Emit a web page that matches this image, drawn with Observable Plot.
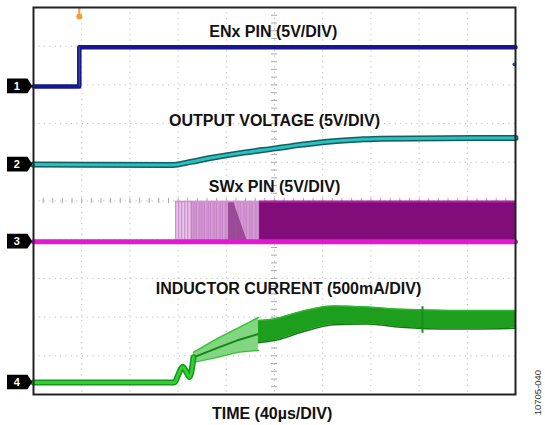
<!DOCTYPE html>
<html>
<head>
<meta charset="utf-8">
<script src="https://cdn.jsdelivr.net/npm/d3@7"></script>
<script src="https://cdn.jsdelivr.net/npm/@observablehq/plot@0.6"></script>
<style>
  html, body { margin: 0; padding: 0; background: #fff; }
  #chart svg { display: block; }
</style>
</head>
<body>
<div id="chart"></div>
<script>
// ---- time axis: microseconds (40 µs/DIV, 10 divisions); vertical: divisions 0..10
const gridX = [0, 40, 80, 120, 160, 200, 240, 280, 320, 360, 400];
const gridY = [0, 1, 2, 3, 4, 5, 6, 7, 8, 9, 10];

// Channel markers
const chLabels = ["1", "2", "3", "4"];
const chLevels = [7.96, 5.94, 3.95, 0.31];

// Trace 1: ENx pin
const enT = [0, 38, 38, 400];
const enV = [7.96, 7.96, 8.97, 8.97];
const enStrayT = [399];
const enStrayV = [8.53];
const trigT = [38];
const trigV = [9.77];

// Trace 2: output voltage
const ovT = [0, 115.4, 130.3, 146.9, 174.3, 200.8, 221.6, 246.5, 271.4, 288, 400];
const ovV = [5.94, 5.93, 6.01, 6.11, 6.25, 6.36, 6.45, 6.54, 6.59, 6.61, 6.63];

// Trace 3: SWx pin
const swT = [0, 400];
const swLowV = [3.95, 3.95];
const swHigh = 4.99;
const swLow = 3.95;
const swSparseStart = 117.8;
const swDarkStart = 130.3;
const swDenseStart = 187.6;
const swPulseT = [118, 120.5, 123, 125.5, 128, 131, 132.5, 134, 135.5, 137.5, 139, 140.5, 142, 144, 145.5, 147, 149,
                  150.5, 152, 154, 155.5, 157, 159, 160.5, 162, 164, 165.5, 167, 169, 170.5, 172, 174, 175.5, 177,
                  179, 180.5, 182, 184, 185.5, 187];
const swTriV = [3.95, 4.99];
const swTriX1 = [161.8, 161.8];
const swTriX2 = [177.6, 166];

// Trace 4: inductor current
const ilT = [0, 117, 120, 123.7, 126.5, 129.5, 132.8];
const ilV = [0.31, 0.31, 0.5, 0.72, 0.6, 0.45, 0.96];
const rampT = [132.8, 152.7, 169.3, 186.7];
const rampHi = [1.09, 1.45, 1.71, 1.99];
const rampLo = [0.83, 0.96, 1.09, 1.14];
const denseT = [186.7, 200.8, 221.6, 249, 277.2, 304.6, 346, 400];
const denseHi = [1.91, 1.96, 2.14, 2.29, 2.26, 2.20, 2.17, 2.17];
const denseLo = [1.34, 1.40, 1.60, 1.80, 1.82, 1.74, 1.69, 1.71];
const glitchT = [322.8];
const glitchLo = [1.58];
const glitchHi = [2.27];

// Labels
const traceLabels = ["ENx PIN (5V/DIV)", "OUTPUT VOLTAGE (5V/DIV)", "SWx PIN (5V/DIV)", "INDUCTOR CURRENT (500mA/DIV)"];
const traceLabelX = [199, 200, 200, 211.6];
const traceLabelY = [9.36, 7.08, 5.37, 2.74];
const xTitle = "TIME (40µs/DIV)";
const figCode = "10705-040";

// ---------- build tables ----------
const zip = (a, b) => a.map((v, i) => ({x: v, y: b[i]}));
const enData = zip(enT, enV);
const ovData = zip(ovT, ovV);
const ilData = zip(ilT, ilV);
const rampData = rampT.map((t, i) => ({x: t, hi: rampHi[i], lo: rampLo[i], mid: (rampHi[i] + rampLo[i]) / 2}));
const denseData = denseT.map((t, i) => ({x: t, hi: denseHi[i], lo: denseLo[i]}));
const triData = swTriV.map((v, i) => ({y: v, x1: swTriX1[i], x2: swTriX2[i]}));

// channel tag shapes (pentagon tags pointing right, placed at each channel level)
const tagData = [];
chLabels.forEach((c, i) => {
  const l = chLevels[i];
  tagData.push({c, x: -21.6, y1: l - 0.19, y2: l + 0.19});
  tagData.push({c, x: -4.6, y1: l - 0.19, y2: l + 0.19});
  tagData.push({c, x: -0.6, y1: l, y2: l});
});
const chData = chLabels.map((c, i) => ({c, y: chLevels[i]}));

const minorX = d3.range(0, 400.01, 8);
const minorY = d3.range(0, 10.01, 0.2);

const fontFamily = "'Liberation Sans', Arial, Helvetica, sans-serif";

const chart = Plot.plot({
  width: 545,
  height: 425,
  marginLeft: 33,
  marginRight: 30,
  marginTop: 7,
  marginBottom: 31,
  style: {fontFamily, background: "#fff"},
  x: {domain: [0, 400], axis: null},
  y: {domain: [0, 10], axis: null},
  marks: [
    // graticule
    Plot.ruleX(gridX, {stroke: "#bdbdbd", strokeDasharray: "1.2,4.2", strokeWidth: 1}),
    Plot.ruleY(gridY, {stroke: "#bdbdbd", strokeDasharray: "1.2,4.2", strokeWidth: 1}),
    Plot.ruleX(minorX, {x: d => d, y1: 4.93, y2: 5.07, stroke: "#aaa", strokeWidth: 1}),
    Plot.ruleY(minorY, {y: d => d, x1: 197.5, x2: 202.5, stroke: "#aaa", strokeWidth: 1}),

    // trace 3: SWx pin
    Plot.rect([0], {x1: swSparseStart, x2: swDarkStart, y1: swLow, y2: swHigh, fill: "#e9c3e9"}),
    Plot.rect([0], {x1: swDarkStart, x2: swDenseStart, y1: swLow, y2: swHigh, fill: "#dcaadc"}),
    Plot.ruleX(swPulseT, {x: d => d, y1: swLow, y2: swHigh, stroke: "#b05aae", strokeWidth: 0.8, strokeOpacity: 0.75}),
    Plot.areaX(triData, {y: "y", x1: "x1", x2: "x2", fill: "#933d8e", fillOpacity: 0.85}),
    Plot.ruleY([swHigh], {x1: swSparseStart, x2: swDenseStart, stroke: "#d88cd8", strokeWidth: 1.5}),
    Plot.rect([0], {x1: swDenseStart, x2: 400, y1: swLow, y2: swHigh, fill: "#820c7a"}),
    Plot.ruleY([swHigh], {x1: swDenseStart, x2: 400, stroke: "#b3239f", strokeWidth: 2}),
    Plot.line(zip(swT, swLowV), {x: "x", y: "y", stroke: "#e01ad0", strokeWidth: 5}),

    // trace 4: inductor current
    Plot.areaY(rampData, {x: "x", y1: "lo", y2: "hi", fill: "#74d274", fillOpacity: 0.9}),
    Plot.line(rampData, {x: "x", y: "hi", stroke: "#3cc23c", strokeWidth: 1.5}),
    Plot.line(rampData, {x: "x", y: "lo", stroke: "#3cc23c", strokeWidth: 1.5}),
    Plot.line(rampData, {x: "x", y: "mid", stroke: "#158515", strokeWidth: 2}),
    Plot.areaY(denseData, {x: "x", y1: "lo", y2: "hi", fill: "#1d9e1d", curve: "monotone-x"}),
    Plot.line(denseData, {x: "x", y: "hi", stroke: "#2fb52f", strokeWidth: 1.5, curve: "monotone-x"}),
    Plot.line(denseData, {x: "x", y: "lo", stroke: "#137a13", strokeWidth: 1.5, curve: "monotone-x"}),
    Plot.ruleX(glitchT, {x: d => d, y1: glitchLo, y2: glitchHi, stroke: "#1a8f1a", strokeWidth: 2}),
    Plot.line(ilData, {x: "x", y: "y", stroke: "#16961a", strokeWidth: 6, curve: "monotone-x"}),
    Plot.line(ilData, {x: "x", y: "y", stroke: "#2fd02f", strokeWidth: 3, curve: "monotone-x"}),

    // trace 2: output voltage
    Plot.line(ovData, {x: "x", y: "y", stroke: "#125e5e", strokeWidth: 6, curve: "monotone-x"}),
    Plot.line(ovData, {x: "x", y: "y", stroke: "#2bc0bf", strokeWidth: 3, curve: "monotone-x"}),

    // trace 1: ENx pin
    Plot.line(enData, {x: "x", y: "y", stroke: "#16168f", strokeWidth: 4.5}),
    Plot.ruleX(enT.slice(1, 2), {x: d => d, y1: enV[1], y2: enV[2], stroke: "#555", strokeWidth: 1}),
    Plot.dot(zip(enStrayT, enStrayV), {x: "x", y: "y", r: 1.8, fill: "#2a3ab0"}),
    // trigger marker
    Plot.ruleX(trigT, {x: d => d, y1: trigV, y2: 10, stroke: "#f0a030", strokeWidth: 2}),
    Plot.dot(zip(trigT, trigV), {x: "x", y: "y", r: 3, fill: "#f0a030"}),

    // frame
    Plot.frame({stroke: "#222", strokeWidth: 2}),

    // channel tags
    Plot.areaY(tagData, {x: "x", y1: "y1", y2: "y2", z: "c", fill: "#000", curve: "linear"}),
    Plot.text(chData, {x: -13.8, y: "y", text: "c", fill: "#fff", fontSize: 11, fontWeight: "bold"}),

    // labels
    Plot.text(traceLabels, {x: (d, i) => traceLabelX[i], y: (d, i) => traceLabelY[i], text: d => d,
      fontSize: 16, fontWeight: "bold", fill: "#111"}),
    Plot.text([xTitle], {x: 198, y: -0.49, text: d => d, fontSize: 16, fontWeight: "bold", fill: "#111"}),
    Plot.text([figCode], {x: 418.3, y: 0.05, text: d => d, rotate: -90, fontSize: 9.5, fill: "#333"})
  ]
});
document.getElementById("chart").appendChild(chart);
</script>
</body>
</html>
